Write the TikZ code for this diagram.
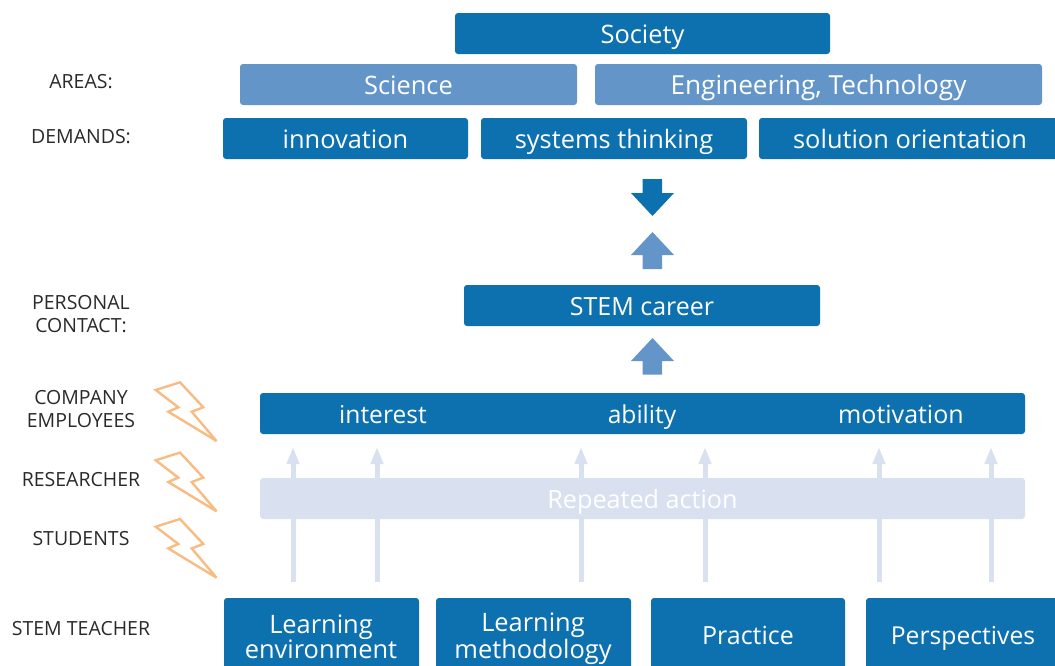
\documentclass[tikz,border=0pt]{standalone}
\usepackage{fontspec}
\setmainfont{Open Sans}
\usetikzlibrary{arrows.meta}
\definecolor{darkb}{HTML}{0D70AF}
\definecolor{midb}{HTML}{6495C8}
\definecolor{lightb}{HTML}{D9E0F0}
\definecolor{bolt}{HTML}{F8BC82}
\definecolor{lab}{HTML}{2B2A29}
\tikzset{
  x=1pt,y=-1pt,
  fs/.style={font=\fontsize{#1}{#1}\selectfont},
  boxbase/.style={rounded corners=3pt,anchor=north west,inner sep=0pt,outer sep=0pt,text=white,align=center,fs=25.4,text height=19pt,text depth=0pt},
  darkbox/.style={boxbase,fill=darkb},
  midbox/.style={boxbase,fill=midb},
  lightbox/.style={boxbase,fill=lightb},
  tallbox/.style={darkbox,text height=18pt,text depth=10pt},
  lab/.style={text=lab,align=center,font=\fontsize{19.5}{23.5}\selectfont,inner sep=0pt,anchor=south,text depth=0pt},
  barword/.style={text=white,inner sep=0pt,anchor=base,fs=25},
  twoline/.style={text=white,inner sep=0pt,anchor=south,text depth=0pt,align=center,font=\fontsize{25.4}{25}\selectfont},
  thinarrow/.style={draw=lightb,line width=5pt,-{Triangle[length=17pt,width=12pt]}},
  blockdark/.style={fill=darkb,draw=none},
  blockmid/.style={fill=midb,draw=none},
  boltline/.style={draw=bolt,line width=2.4pt,line join=miter,miter limit=3,fill=none},
}
\newcommand{\boxat}[7]{\node[#1,minimum width=#4pt-#2pt,minimum height=#5pt-#3pt] (#6) at (#2,#3) {#7};}
\newcommand{\boltat}[2]{\draw[boltline,shift={(0,#1)}] (155.7,390) -- (180,382.3) -- (203.3,407.3) -- (191.7,411.7) -- (216.5,441) -- (168.3,411.7) -- (178.3,407.3) -- cycle;}
\begin{document}
\begin{tikzpicture}
\useasboundingbox (0,0) rectangle (1055,665);
\clip (0,0) rectangle (1055,665);
% top boxes
\boxat{darkbox}{455}{13}{830}{54}{society}{Society}
\boxat{midbox}{240}{64}{577}{105}{science}{Science}
\boxat{midbox,fs=26.2}{595}{64}{1042}{105}{engtech}{Engineering, Technology}
\boxat{darkbox}{223}{118}{468}{159}{innov}{innovation}
\boxat{darkbox}{481}{118}{747}{159}{systems}{systems thinking}
\boxat{darkbox}{759}{118}{1061}{159}{solution}{solution orientation}
% block arrows
\fill[blockdark] (642.7,179) -- (662,179) -- (662,193) -- (674,193) -- (652.5,216) -- (631,193) -- (642.7,193) -- cycle;
\fill[blockmid] (642.7,269) -- (662,269) -- (662,255) -- (674,255) -- (652.5,232) -- (631,255) -- (642.7,255) -- cycle;
\fill[blockmid] (642.7,374.5) -- (662,374.5) -- (662,361) -- (674,361) -- (652.5,338) -- (631,361) -- (642.7,361) -- cycle;
% career
\boxat{darkbox,fs=25}{464}{285}{820}{326}{career}{STEM career}
% bar
\boxat{darkbox}{260}{393}{1025}{434}{bar}{}
\node[barword,fs=24.6] (interest) at (383,423) {interest};
\node[barword,fs=24.6] (ability) at (642,423) {ability};
\node[barword] (motivation) at (901,423) {motivation};
% thin arrows
\foreach \n/\xx in {a/293,b/377,c/581,d/705,e/879,f/991}{
  \coordinate (s\n) at (\xx,582);
  \coordinate (t\n) at (\xx,447);
  \draw[thinarrow] (s\n) -- (t\n);
}
\boxat{lightbox,fs=25.2}{260}{478}{1025}{519}{repeated}{Repeated action}
% bottom boxes
\boxat{darkbox}{224}{598}{419}{683}{envbox}{}
\node[twoline] (env) at (321,658.5) {Learning\\environment};
\boxat{darkbox}{436}{598}{631}{683}{methbox}{}
\node[twoline] (meth) at (533,658.5) {Learning\\methodology};
\boxat{tallbox,fs=25}{651}{598}{845}{683}{prac}{Practice}
\boxat{tallbox,fs=24.7}{866}{598}{1060}{683}{persp}{Perspectives}
% bolts
\boltat{0}{a}
\boltat{70.3}{b}
\boltat{136.7}{c}
% labels
\node[lab] (areas) at (81,89) {AREAS:};
\node[lab] (demands) at (81,144) {DEMANDS:};
\node[lab] (personal) at (81,333) {PERSONAL\\CONTACT:};
\node[lab] (company) at (81,428) {COMPANY\\EMPLOYEES};
\node[lab] (researcher) at (81,487) {RESEARCHER};
\node[lab] (students) at (81,546) {STUDENTS};
\node[lab] (teacher) at (81,636) {STEM TEACHER};
\end{tikzpicture}
\end{document}
